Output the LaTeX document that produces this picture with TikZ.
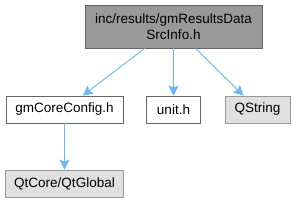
\documentclass[tikz,border=0pt]{standalone}
\usepackage{fontspec}
\setmainfont{Liberation Sans}
\usetikzlibrary{arrows.meta}
\definecolor{edgeblue}{HTML}{63B8FF}
\definecolor{darkbox}{HTML}{999999}
\definecolor{lightbox}{HTML}{E0E0E0}
\begin{document}
\begin{tikzpicture}[
      x=1pt, y=-1pt,
      file/.style={draw=black!60, fill=white, line width=0.8pt, minimum height=27pt, inner sep=0pt, font=\fontsize{13.5}{15.5}\selectfont},
      sysfile/.style={file, draw=black!40, fill=lightbox},
      main/.style={file, fill=darkbox, align=center},
      dep/.style={-{Stealth[length=10pt,width=10pt,inset=2pt]}, draw=edgeblue, line width=0.9pt}
    ]
    \useasboundingbox (0,0) rectangle (296,203);
    % Header itself
    \node[main, minimum width=177pt, minimum height=43pt] (src) at (173.5,26.5) {inc/results/gmResultsData\\SrcInfo.h};

    % Direct includes
    \node[file, minimum width=117pt] (cfg) at (64.5,109.5) {gmCoreConfig.h};
    \node[file, minimum width=54pt] (unit) at (173.5,109.5) {unit.h};
    \node[sysfile, minimum width=65pt] (qstr) at (257.5,109.5) {QString};

    % Included by gmCoreConfig.h
    \node[sysfile, minimum width=118pt] (qglob) at (64.5,183.5) {QtCore/QtGlobal};

    \draw[dep] (src) -- (cfg);
    \draw[dep] (src) -- (unit);
    \draw[dep] (src) -- (qstr);
    \draw[dep] (cfg) -- (qglob);
  \end{tikzpicture}
\end{document}
